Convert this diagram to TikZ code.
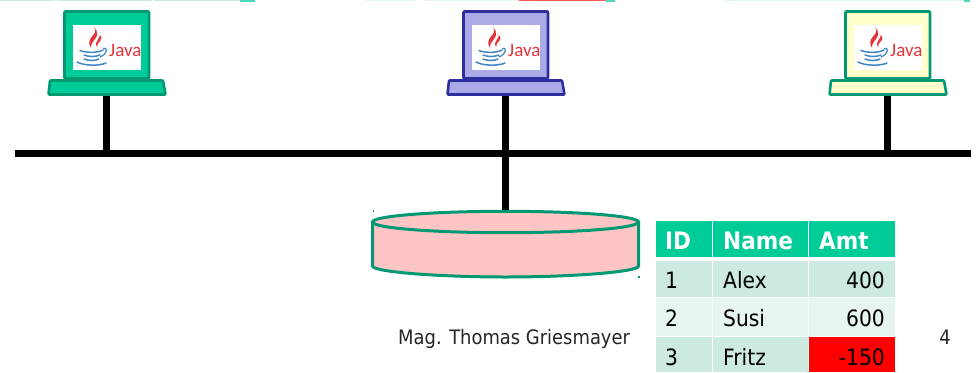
\documentclass[tikz,border=0pt]{standalone}
\usepackage{fontspec}
\setmainfont[FakeStretch=0.9]{DejaVu Sans}
\newfontfamily\javafont{Carlito}
\definecolor{teal1}{HTML}{00CC99}
\definecolor{tealedge}{HTML}{009973}
\definecolor{rowa}{HTML}{CCEADF}
\definecolor{rowb}{HTML}{E7F5EF}
\definecolor{purpfill}{HTML}{ABABE8}
\definecolor{purpedge}{HTML}{2E2E9E}
\definecolor{yel}{HTML}{FFFFCC}
\definecolor{pinkfill}{HTML}{FFC4C4}
\definecolor{topred}{HTML}{FF5555}
\definecolor{javared}{HTML}{E5343A}
\definecolor{javablue}{HTML}{3F86C6}
\tikzset{
  x=1pt,y=-1pt,
  wire/.style={line width=7pt,black},
  screenbox/.style={line width=2.6pt,rounded corners=0.8pt,line join=round},
  cell/.style={inner sep=0pt,text=black,font=\fontsize{22.5}{24}\selectfont},
  headcell/.style={inner sep=0pt,text=white,font=\fontsize{24}{26}\selectfont\bfseries},
  strip/.style={fill=rowa,draw=none},
  stripb/.style={fill=rowb,draw=none},
  cupline/.style={javablue,line width=1.5pt,line cap=round},
}
\newcommand{\laptop}[5]{%
  \begin{scope}[shift={(#1,0)}]
    \draw[screenbox,fill=#3,draw=#4] (64.5,11.5) rectangle (149,78.5);
    \fill[#4] (103,79) rectangle (110,81);
    \draw[screenbox,fill=#3,draw=#4] (50,80.5) -- (163,80.5) -- (165.5,94.5) -- (48.5,94.5) -- cycle;
    \fill[white] (73,25) rectangle (141,70);
    \fill[javared] (94,27) .. controls (100,35) and (84,37) .. (91,48) .. controls (90,40) and (103,37) .. (94,27) -- cycle;
    \fill[javared] (98,34) .. controls (104,37) and (93,40) .. (97,47) .. controls (96,42) and (107,39) .. (98,34) -- cycle;
    \draw[cupline] (80,50.5) .. controls (86,53) and (98,53) .. (103,50);
    \draw[cupline] (84,55) .. controls (89,57) and (95,57) .. (100,55);
    \draw[cupline] (84,59) .. controls (89,61) and (95,61) .. (99,59);
    \draw[cupline] (77,62) .. controls (84,66) and (100,66) .. (106,63);
    \draw[javablue,line width=1.2pt] (103,49) .. controls (108,46) and (108,54) .. (100,57);
    \node[inner sep=0pt,anchor=base west,text=javared,font=\javafont\fontsize{19}{20}\selectfont] (#2) at (109,56.5) {Java};
  \end{scope}
}
\begin{document}
\begin{tikzpicture}
\useasboundingbox (0,0) rectangle (979,372);
\fill[white] (0,0) rectangle (979,372);
% top strip
\fill[strip] (0,0) rectangle (55,1.2);
\fill[strip] (57,0) rectangle (152,1.2);
\fill[strip] (154,0) rectangle (240,1.2);
\fill[teal1!70] (240,0) rectangle (255,1.6);
\fill[stripb] (366,0) rectangle (416,1.2);
\fill[stripb] (423,0) rectangle (519,1.2);
\fill[topred] (519,0) rectangle (606,1.2);
\fill[teal1!70] (606,0) rectangle (615,1.6);
\fill[stripb] (723,0) rectangle (780,1.2);
\fill[stripb] (781,0) rectangle (876,1.2);
\fill[stripb] (877,0) rectangle (964,1.2);
\fill[teal1!70] (964,0) rectangle (970,1.6);
% named anchors
\coordinate (busL) at (15,153);
\coordinate (busR) at (971,153);
\coordinate (a) at (106.5,95);
\coordinate (b) at (505.5,95);
\coordinate (c) at (887.5,95);
\coordinate (ab) at (106.5,153);
\coordinate (bb) at (505.5,153);
\coordinate (cb) at (887.5,153);
\coordinate (dbtop) at (505.5,212);
% wires
\draw[wire] (busL) -- (busR);
\draw[wire] (a) -- (ab);
\draw[wire] (b) -- (dbtop);
\draw[wire] (c) -- (cb);
% laptops
\laptop{0}{java1}{teal1}{tealedge}{}
\laptop{399}{java2}{purpfill}{purpedge}{}
\laptop{781}{java3}{yel}{tealedge}{}
% database
\draw[line width=3pt,draw=tealedge,fill=pinkfill] (372.5,222) -- (372.5,266) .. controls (372.5,272) and (440,277) .. (505.5,277) .. controls (571,277) and (638.5,272) .. (638.5,266) -- (638.5,222);
\draw[line width=3pt,draw=tealedge,fill=pinkfill] (505.5,222) ellipse [x radius=133,y radius=10.7];
\fill[tealedge] (372.5,210) rectangle (373.5,212);
\fill[tealedge] (638,276) rectangle (640,278);
% table
\fill[teal1] (656,221) rectangle (712,257);
\fill[teal1] (713,221) rectangle (808,257);
\fill[teal1] (809,221) rectangle (895,257);
\fill[rowa] (656,261) rectangle (712,297);
\fill[rowa] (713,261) rectangle (808,297);
\fill[rowa] (809,261) rectangle (895,297);
\fill[rowb] (656,298) rectangle (712,336);
\fill[rowb] (713,298) rectangle (808,336);
\fill[rowb] (809,298) rectangle (895,336);
\fill[rowa] (656,337) rectangle (712,372);
\fill[rowa] (713,337) rectangle (808,372);
\fill[red] (809,337) rectangle (895,372);
\node[headcell,anchor=base west] (h1) at (665,249) {ID};
\node[headcell,anchor=base west] (h2) at (723,249) {Name};
\node[headcell,anchor=base west] (h3) at (819,249) {Amt};
\node[cell,anchor=base west] (r1a) at (665,288) {1};
\node[cell,anchor=base west] (r1b) at (723,288) {Alex};
\node[cell,anchor=base east] (r1c) at (885,288) {400};
\node[cell,anchor=base west] (r2a) at (665,326) {2};
\node[cell,anchor=base west] (r2b) at (723,326) {Susi};
\node[cell,anchor=base east] (r2c) at (885,326) {600};
\node[cell,anchor=base west] (r3a) at (665,365) {3};
\node[cell,anchor=base west] (r3b) at (723,365) {Fritz};
\node[cell,anchor=base east] (r3c) at (885,365) {-150};
% footer
\node[inner sep=0pt,anchor=base west,font=\fontsize{19.9}{22}\selectfont,text=black!85] (author) at (398,344) {Mag. Thomas Griesmayer};
\node[inner sep=0pt,anchor=base,font=\fontsize{19.9}{22}\selectfont,text=black!85] (page) at (945,344) {4};
\end{tikzpicture}
\end{document}
